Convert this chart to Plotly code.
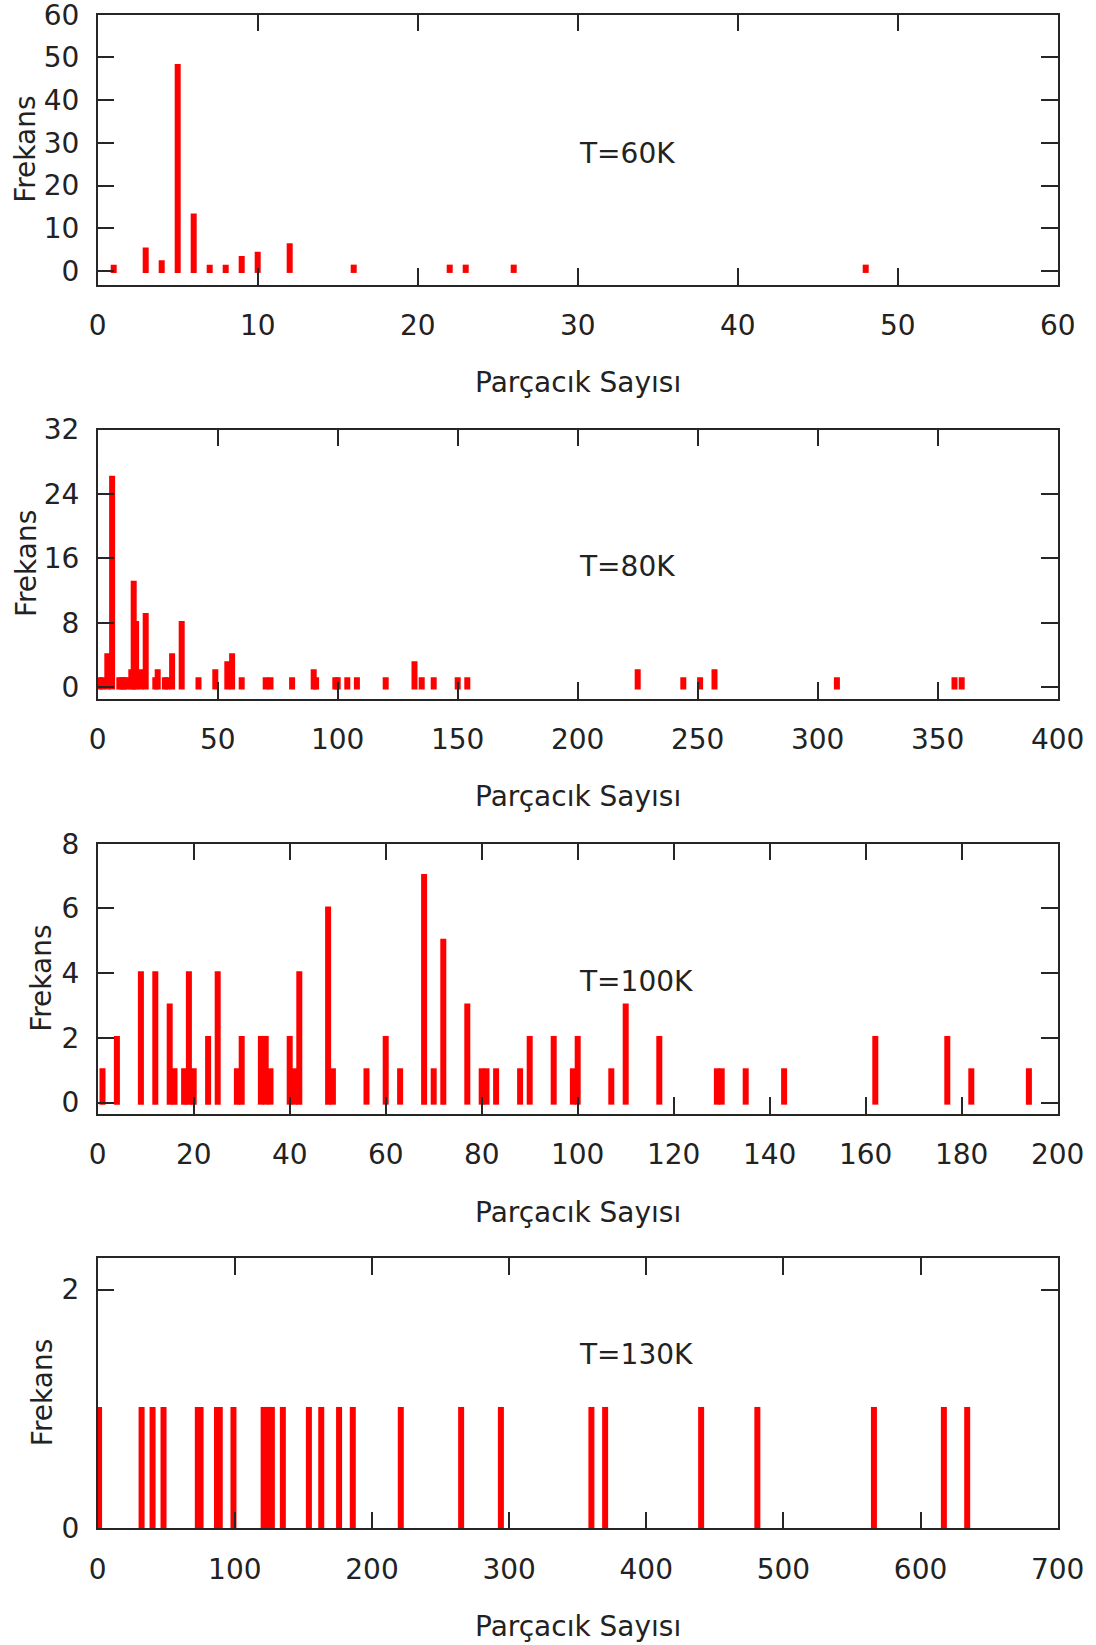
import plotly.graph_objects as go

# ---------------- data ----------------
# T = 60K
x_60k = [1, 3, 4, 5, 6, 7, 8, 9, 10, 12, 16, 22, 23, 26, 48]
f_60k = [1, 5, 2, 48, 13, 1, 1, 3, 4, 6, 1, 1, 1, 1, 1]

# T = 80K
x_80k = [1, 2, 4, 6, 9, 10, 11, 12, 14, 15, 16, 18, 20, 24, 25, 28, 29, 31, 35, 42,
         49, 54, 56, 60, 70, 72, 81, 90, 91, 99, 100, 104, 108, 120, 132, 135, 140,
         150, 154, 225, 244, 251, 257, 308, 357, 360]
f_80k = [1, 1, 4, 26, 1, 1, 1, 1, 2, 13, 8, 2, 9, 1, 2, 1, 1, 4, 8, 1,
         2, 3, 4, 1, 1, 1, 1, 2, 1, 1, 1, 1, 1, 1, 3, 1, 1,
         1, 1, 2, 1, 1, 2, 1, 1, 1]

# T = 100K
x_100k = [1, 4, 9, 12, 15, 16, 18, 19, 20, 23, 25, 29, 30, 34, 35, 36, 40, 41, 42, 48,
          49, 56, 60, 63, 68, 70, 72, 77, 80, 81, 83, 88, 90, 95, 99, 100, 107, 110,
          117, 129, 130, 135, 143, 162, 177, 182, 194]
f_100k = [1, 2, 4, 4, 3, 1, 1, 4, 1, 2, 4, 1, 2, 2, 2, 1, 2, 1, 4, 6,
          1, 1, 2, 1, 7, 1, 5, 3, 1, 1, 1, 1, 2, 2, 1, 2, 1, 3,
          2, 1, 1, 1, 1, 2, 2, 1, 1]

# T = 130K
x_130k = [1, 32, 40, 48, 73, 75, 87, 89, 99, 121, 124, 127, 135, 154, 163, 176, 186,
          221, 265, 294, 360, 370, 440, 481, 566, 617, 634]
f_130k = [1] * len(x_130k)

labels = ["T=60K", "T=80K", "T=100K", "T=130K"]
x_ranges = [[0, 60], [0, 400], [0, 200], [0, 700]]
x_dticks = [10, 50, 20, 100]
y_ranges = [[-3.3, 60], [-1.4, 32], [-0.35, 8], [0, 2.265]]
y_ticks = [[0, 10, 20, 30, 40, 50, 60], [0, 8, 16, 24, 32], [0, 2, 4, 6, 8], [0, 2]]
x_title = "Parçacık Sayısı"
y_title = "Frekans"

series = [(x_60k, f_60k), (x_80k, f_80k), (x_100k, f_100k), (x_130k, f_130k)]

# ---------------- layout geometry (page pixels) ----------------
W, H = 1096, 1645
LEFT, RIGHT = 97.7, 1057.7
TOPS = [14.7, 429.5, 843.7, 1258.0]
BOTTOMS = [285.0, 698.7, 1114.0, 1528.3]
LABEL_Y = [153, 567, 981, 1354]
YTITLE_X = [26, 26, 42, 42]
LABEL_X = 577

FONT = "DejaVu Sans"
FS = 28
TXT = "#222222"
AX = "#262626"
RED = "#ff0000"

CORE_PX = 2.0   # inner bar width in px
LINE_PX = 4.0   # outline width in px -> ~6 px wide impulses

fig = go.Figure()
layout = dict(
    width=W, height=H,
    margin=dict(l=0, r=0, t=0, b=0, autoexpand=False),
    paper_bgcolor="white", plot_bgcolor="white",
    showlegend=False, barmode="overlay",
    font=dict(family=FONT, size=FS, color=TXT),
)
annotations = []
plot_w = RIGHT - LEFT

for i, ((xs, ys), xr, dx, yr, yt, lab) in enumerate(
        zip(series, x_ranges, x_dticks, y_ranges, y_ticks, labels)):
    n = "" if i == 0 else str(i + 1)
    xa, ya = "x" + n, "y" + n
    wunits = CORE_PX * (xr[1] - xr[0]) / plot_w
    fig.add_trace(go.Bar(
        x=xs, y=ys, width=[wunits] * len(xs),
        marker=dict(color=RED, line=dict(color=RED, width=LINE_PX)),
        xaxis=xa, yaxis=ya,
    ))
    top, bot = TOPS[i], BOTTOMS[i]
    common = dict(
        showline=True, linecolor=AX, linewidth=1.5, mirror="ticks",
        ticks="inside", ticklen=17, tickwidth=1.5, tickcolor=AX,
        showgrid=False, zeroline=False, automargin=False,
        ticklabeloverflow="allow",
        tickfont=dict(family=FONT, size=FS, color=TXT),
    )
    layout["xaxis" + n] = dict(
        domain=[LEFT / W, RIGHT / W], range=xr, tick0=0, dtick=dx,
        anchor=ya, ticklabelstandoff=15, **common)
    layout["yaxis" + n] = dict(
        domain=[1 - bot / H, 1 - top / H], range=yr, tickvals=yt,
        anchor=xa, ticklabelstandoff=11, **common)

    annotations.append(dict(
        text=lab, xref="paper", yref="paper", x=LABEL_X / W, y=1 - LABEL_Y[i] / H,
        xanchor="left", yanchor="middle", showarrow=False,
        font=dict(family=FONT, size=FS, color=TXT)))
    annotations.append(dict(
        text=x_title, xref="paper", yref="paper", x=(LEFT + RIGHT) / 2 / W,
        y=1 - (bot + 98) / H, xanchor="center", yanchor="middle", showarrow=False,
        font=dict(family=FONT, size=FS, color=TXT)))
    annotations.append(dict(
        text=y_title, xref="paper", yref="paper", x=YTITLE_X[i] / W,
        y=1 - (top + bot) / 2 / H, xanchor="center", yanchor="middle",
        textangle=-90, showarrow=False,
        font=dict(family=FONT, size=FS, color=TXT)))

layout["annotations"] = annotations
fig.update_layout(**layout)
fig.write_html(
    "out.html",
    config={"displayModeBar": False},
    post_script="document.body.style.margin='0';document.body.style.padding='0';",
)
